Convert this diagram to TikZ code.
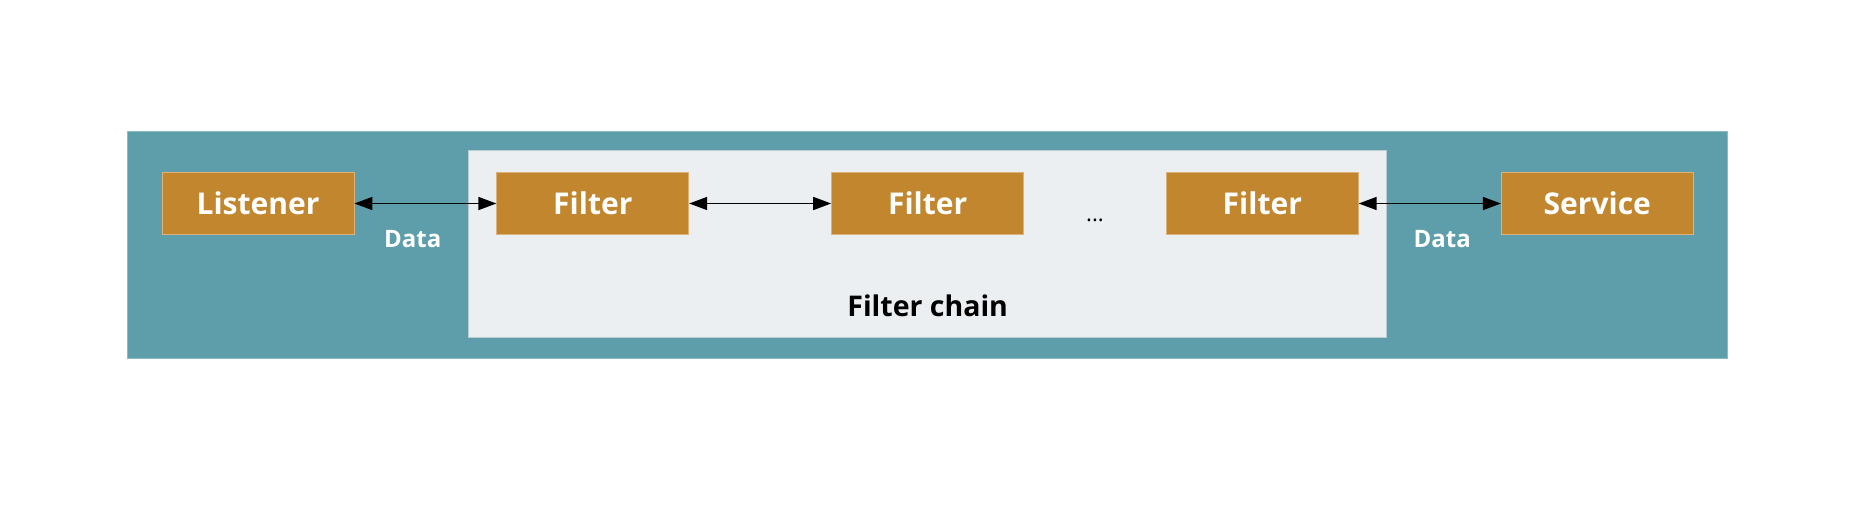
\documentclass[tikz,border=0pt]{standalone}
\usepackage{fontspec}
\setmainfont{Open Sans}
\usetikzlibrary{arrows.meta}
\definecolor{teal1}{HTML}{5E9EAB}
\definecolor{tealedge}{HTML}{8DBBC5}
\definecolor{boxc}{HTML}{C2862F}
\definecolor{boxedge}{HTML}{DDB27A}
\definecolor{chainbg}{HTML}{ECEFF2}
\definecolor{chainedge}{HTML}{B9CDD3}
\tikzset{
  comp/.style={fill=boxc, draw=boxedge, line width=0.8pt, minimum height=62pt, minimum width=192pt, inner sep=0pt,
    text=white, font=\fontsize{30}{36}\selectfont\bfseries},
  lbl/.style={inner sep=0pt, text=white, font=\fontsize{24}{28}\selectfont\bfseries},
  link/.style={line width=1.6pt, {Triangle[length=18pt,width=13pt]}-{Triangle[length=18pt,width=13pt]}}
}
\begin{document}
\begin{tikzpicture}[x=1pt,y=-1pt]
\useasboundingbox (0,0) rectangle (1852,512);
\fill[white] (0,0) rectangle (1852,512);
\draw[fill=teal1, draw=tealedge, line width=1pt] (127.3,131.3) rectangle (1727.3,358.3);
\draw[fill=chainbg, draw=chainedge, line width=1pt] (468.3,150.7) rectangle (1386.7,337.3);
\node[comp] (listener) at (258,203.5) {Listener};
\node[comp] (f1) at (592.8,203.5) {Filter};
\node[comp] (f2) at (927.6,203.5) {Filter};
\node[comp] (f3) at (1262.3,203.5) {Filter};
\node[comp] (service) at (1597.3,203.5) {Service};
\draw[link] (listener.east) -- (f1.west);
\draw[link] (f1.east) -- (f2.west);
\draw[link] (f3.east) -- (service.west);
\node[lbl] (d1) at (412.7,239) {Data};
\node[lbl] (d2) at (1442.3,239) {Data};
\node[inner sep=0pt, font=\fontsize{22}{26}\selectfont] (dots) at (1095,220) {...};
\node[inner sep=0pt, font=\fontsize{28.5}{34}\selectfont\bfseries] (chain) at (927.7,306) {Filter chain};
\end{tikzpicture}
\end{document}
